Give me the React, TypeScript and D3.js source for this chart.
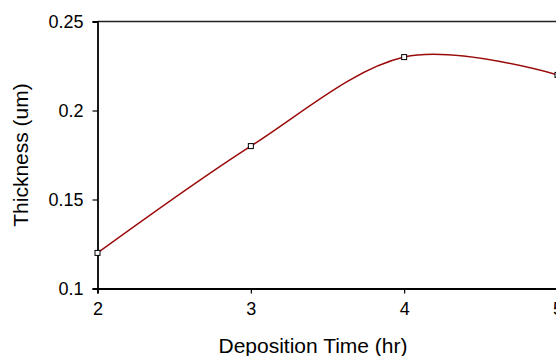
import React, { useEffect, useRef } from "react";
import * as d3 from "d3";

// deposition time (hr) and measured film thickness (um)
const times = [2, 3, 4, 5];
const thickness = [0.12, 0.18, 0.23, 0.22];
const xTicks = [2, 3, 4, 5];
const yTicks = [0.1, 0.15, 0.2, 0.25];

const width = 556;
const height = 356;

const Chart = () => {
    const svgRef = useRef<SVGSVGElement | null>(null);

    useEffect(() => {
        const svg = d3.select(svgRef.current);
        svg.selectAll("*").remove();

        // plot box (right edge runs past the picture, like the original)
        const left = 97.5;
        const right = 557.5;
        const top = 21.5;
        const bottom = 288.5;

        const x = d3.scaleLinear().domain([2, 5]).range([left, right]);
        const y = d3.scaleLinear().domain([0.1, 0.25]).range([bottom, top]);

        const font = "'Liberation Sans', Arial, sans-serif";

        // top frame line
        svg.append("line")
            .attr("x1", left).attr("x2", right + 20)
            .attr("y1", top).attr("y2", top)
            .attr("stroke", "#222").attr("stroke-width", 1.3);

        // y axis
        const gy = svg.append("g")
            .attr("transform", `translate(${left},0)`)
            .call(d3.axisLeft(y).tickValues(yTicks).tickSize(5).tickPadding(9)
                .tickFormat((d) => String(d)));
        gy.select(".domain").attr("stroke", "#000").attr("stroke-width", 1.8);
        gy.selectAll(".tick line").attr("stroke", "#000").attr("stroke-width", 1.2);
        gy.selectAll("text").attr("font-family", font).attr("font-size", 18).attr("fill", "#000");

        // x axis
        const gx = svg.append("g")
            .attr("transform", `translate(0,${bottom})`)
            .call(d3.axisBottom(x).tickValues(xTicks).tickSize(5).tickPadding(9)
                .tickFormat((d) => String(d)));
        gx.select(".domain").attr("stroke", "#000").attr("stroke-width", 1.8);
        gx.selectAll(".tick line").attr("stroke", "#000").attr("stroke-width", 1.2);
        gx.selectAll("text").attr("font-family", font).attr("font-size", 18).attr("fill", "#000");

        const points = times.map((t, i) => [t, thickness[i]] as [number, number]);

        // smoothed line
        svg.append("path")
            .datum(points)
            .attr("fill", "none")
            .attr("stroke", "#9b0a0a")
            .attr("stroke-width", 1.5)
            .attr("d", d3.line<[number, number]>()
                .x((d) => x(d[0]))
                .y((d) => y(d[1]))
                .curve(d3.curveCardinal.tension(0)));

        // square markers
        svg.append("g")
            .selectAll("rect")
            .data(points)
            .join("rect")
            .attr("x", (d) => x(d[0]) - 2.5)
            .attr("y", (d) => y(d[1]) - 2.5)
            .attr("width", 5)
            .attr("height", 5)
            .attr("fill", "#fff")
            .attr("stroke", "#000")
            .attr("stroke-width", 1);

        // axis titles
        svg.append("text")
            .attr("x", 313)
            .attr("y", 353)
            .attr("text-anchor", "middle")
            .attr("font-family", font)
            .attr("font-size", 21)
            .attr("fill", "#000")
            .text("Deposition Time (hr)");

        svg.append("text")
            .attr("transform", "translate(28,155) rotate(-90)")
            .attr("text-anchor", "middle")
            .attr("font-family", font)
            .attr("font-size", 21)
            .attr("fill", "#000")
            .text("Thickness (um)");
    }, []);

    return (
        <svg
            ref={svgRef}
            width={width}
            height={height}
            style={{ position: "absolute", left: 0, top: 0, background: "#fff" }}
        />
    );
};

export default function App() {
    return <Chart />;
}
